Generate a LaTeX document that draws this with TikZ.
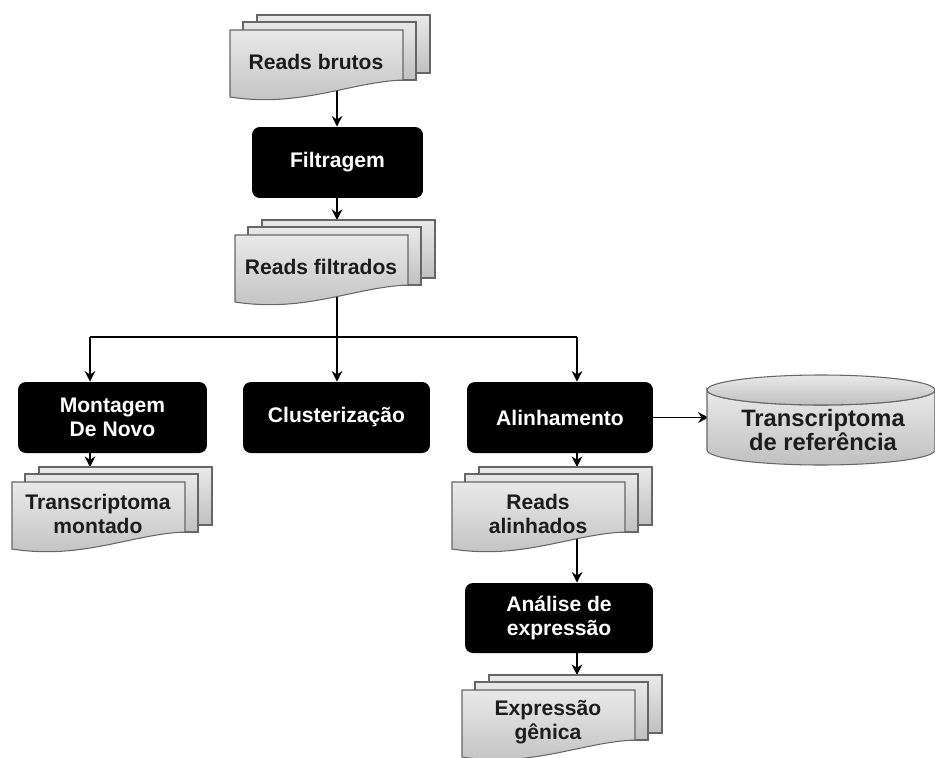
\documentclass[tikz,border=0pt]{standalone}
\usepackage{fontspec}
\setmainfont{Liberation Sans}
\usepackage{tikz}
\usetikzlibrary{arrows.meta,backgrounds}

\definecolor{sheettop}{HTML}{E9E9E9}
\definecolor{sheetbot}{HTML}{C0C0C0}
\definecolor{sheetline}{HTML}{666666}
\definecolor{doctxt}{HTML}{1C1C1C}

% pile of three sheets, #1,#2 = top left corner of the front sheet
\newcommand{\docstack}[4]{%
\path[sheet] (#1+27,#2-15) rectangle (#1+200,#2+43);
\path[sheet] (#1+13,#2-8) rectangle (#1+186,#2+50);
\path[sheet] (#1,#2) -- (#1+173,#2) -- (#1+173,#2+50) .. controls (#1+120,#2+52) and (#1+70,#2+78) .. (#1,#2+67) -- cycle;
\node(#3)[doctext] at (#1+86,#2+32) {#4};
\coordinate(#3-top) at (#1+100,#2-15);
}

\begin{document}
\begin{tikzpicture}[x=0.02cm, y=-0.02cm]
	\tikzstyle{sheet} = [draw=sheetline, line width=0.6pt, top color=sheettop, bottom color=sheetbot]
\tikzstyle{doctext} = [text=doctxt, font=\bfseries\fontsize{12}{14}\selectfont, align=center, minimum width=3.46cm, inner sep=0pt]
\tikzstyle{proc} = [rectangle, rounded corners=4.5pt, fill=black, text=white, font=\bfseries\fontsize{12}{14}\selectfont, align=center, minimum height=1.42cm, inner sep=0pt]
\tikzstyle{line} = [line width=1.1pt,>={Stealth[length=6pt,width=6pt]}]
\useasboundingbox (0,0) rectangle (935,757);
\docstack{230}{30}{brutos}{Reads brutos}
\node(filtragem)[proc, minimum width=3.42cm] at (337.5,162.5) {Filtragem};
\docstack{235}{235}{filtrados}{Reads filtrados}
\node(montagem)[proc, minimum width=3.78cm] at (112.5,417.5) {Montagem\\De Novo};
\node(cluster)[proc, minimum width=3.74cm] at (336.5,417.5) {Clusterização};
\node(alinhamento)[proc, minimum width=3.72cm] at (560,417.5) {Alinhamento};
\path[sheet] (707,390) -- (707,450) arc[start angle=180, end angle=0, x radius=114, y radius=15] -- (935,390) arc[start angle=0, end angle=180, x radius=114, y radius=15] -- cycle;
\path[sheet] (821,390) ellipse [x radius=114, y radius=15];
\node(reftrans)[doctext, font=\bfseries\fontsize{13.5}{13.5}\selectfont, minimum width=4.56cm] at (823,430) {Transcriptoma\\de referência};
\docstack{12}{482}{montado}{Transcriptoma\\montado}
\docstack{452}{482}{alinhados}{Reads\\alinhados}
\node(analise)[proc, minimum width=3.76cm, minimum height=1.4cm] at (559,618) {Análise de\\expressão};
\docstack{462}{690}{genica}{Expressão\\gênica}
\coordinate(colA) at (90,337);
\coordinate(colB) at (337,337);
\coordinate(colC) at (577,337);
\begin{pgfonlayer}{background}
\draw[line,->] (brutos.center -| colB) --(filtragem.north -| colB);
\draw[line,->] (filtragem.south -| colB) --(filtrados-top -| colB);
\draw[line] (filtrados.center -| colB) --(colB);
\draw[line] (colA) --(colC);
\draw[line,->] (colA) --(colA |- montagem.north);
\draw[line,->] (colB) --(colB |- cluster.north);
\draw[line,->] (colC) --(colC |- alinhamento.north);
\draw[line,->] (montagem.south -| colA) --(montado-top -| colA);
\draw[line,->] (alinhamento.south -| colC) --(alinhados-top -| colC);
\draw[line,->] (alinhados.center -| colC) --(analise.north -| colC);
\draw[line,->] (analise.south -| colC) --(genica-top -| colC);
\draw[line,->] (alinhamento.east) --(alinhamento.east -| reftrans.west);
\end{pgfonlayer}
  \end{tikzpicture}
\end{document}
